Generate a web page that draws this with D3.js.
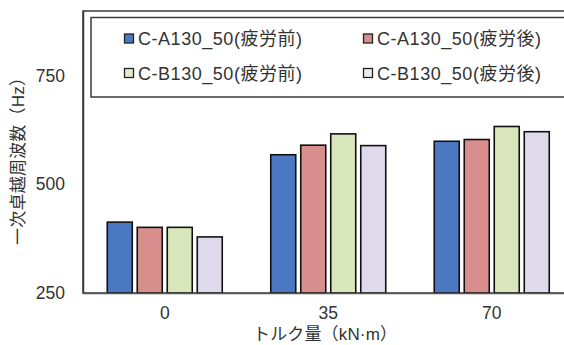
<!DOCTYPE html>
<html>
<head>
<meta charset="utf-8">
<script src="https://cdn.jsdelivr.net/npm/d3@7"></script>
<style>
  html, body { margin: 0; padding: 0; background: #fff; }
  svg { display: block; }
</style>
</head>
<body>
<svg id="chart" width="564" height="345"></svg>
<script>
const categories = ["0", "35", "70"];
const seriesNames = ["C-A130_50(疲労前)", "C-A130_50(疲労後)", "C-B130_50(疲労前)", "C-B130_50(疲労後)"];
const seriesColors = ["#4a78c2", "#d98e8e", "#d9e6bb", "#dedaec"];
const seriesA_before = [413, 568, 599];
const seriesA_after = [401, 590, 603];
const seriesB_before = [401, 616, 633];
const seriesB_after = [379, 589, 621];
const yTicks = [250, 500, 750];
const yTitle = "一次卓越周波数（Hz）";
const xTitle = "トルク量（kN·m）";

const seriesValues = [seriesA_before, seriesA_after, seriesB_before, seriesB_after];

const svg = d3.select("#chart");
const pLeft = 83, pRight = 573.5, pTop = 11, pBottom = 293;

const x = d3.scaleBand().domain(categories).range([pLeft, pRight]).paddingInner(0).paddingOuter(0);
const xs = d3.scaleBand().domain(d3.range(seriesNames.length)).range([0, 115]).paddingInner(5 / 30).paddingOuter(0);
const y = d3.scaleLinear().domain([250, 900]).range([pBottom, pTop - 0.6]);

// plot frame (top/right)
svg.append("rect")
  .attr("x", pLeft).attr("y", pTop)
  .attr("width", 620 - pLeft).attr("height", pBottom - pTop)
  .attr("fill", "none").attr("stroke", "#3a3a3a").attr("stroke-width", 1.5);

// bars
const groups = svg.append("g").selectAll("g")
  .data(categories)
  .join("g")
  .attr("transform", d => `translate(${x(d) + x.bandwidth() / 2 - 57.5},0)`);

groups.selectAll("rect")
  .data((c, ci) => seriesValues.map((vals, si) => ({ si, v: vals[ci] })))
  .join("rect")
  .attr("x", d => xs(d.si))
  .attr("width", xs.bandwidth())
  .attr("y", d => y(d.v))
  .attr("height", d => y(250) - y(d.v))
  .attr("fill", d => seriesColors[d.si])
  .attr("stroke", "#111")
  .attr("stroke-width", 1.6);

// axes
const yAxis = svg.append("g")
  .attr("transform", `translate(${pLeft},0)`)
  .call(d3.axisLeft(y).tickValues(yTicks).tickSize(0).tickPadding(18).tickFormat(d3.format("d")));
yAxis.select(".domain").attr("stroke", "#3a3a3a").attr("stroke-width", 1.5);
yAxis.selectAll("text")
  .attr("font-family", "Liberation Sans, Arial, sans-serif")
  .attr("font-size", 17.5).attr("fill", "#333");

const xAxis = svg.append("g")
  .attr("transform", `translate(0,${pBottom})`)
  .call(d3.axisBottom(x).tickSize(0).tickPadding(14));
xAxis.select(".domain").attr("stroke", "#555").attr("stroke-width", 1.5);
xAxis.selectAll("text")
  .attr("font-family", "Liberation Sans, Arial, sans-serif")
  .attr("font-size", 17.5).attr("fill", "#333");

// axis titles
svg.append("text")
  .attr("transform", "translate(24,157) rotate(-90)")
  .attr("text-anchor", "middle")
  .attr("font-family", "Liberation Sans, 'Noto Sans CJK JP', sans-serif")
  .attr("font-size", 17).attr("fill", "#333")
  .attr("textLength", 176).attr("lengthAdjust", "spacing")
  .text(yTitle);

svg.append("text")
  .attr("x", 325).attr("y", 340)
  .attr("text-anchor", "middle")
  .attr("font-family", "Liberation Sans, 'Noto Sans CJK JP', sans-serif")
  .attr("font-size", 17).attr("fill", "#333")
  .attr("textLength", 144).attr("lengthAdjust", "spacing")
  .text(xTitle);

// legend
const legend = svg.append("g");
legend.append("rect")
  .attr("x", 91).attr("y", 17.5).attr("width", 540).attr("height", 79.5)
  .attr("fill", "#fff").attr("stroke", "#3a3a3a").attr("stroke-width", 1.5);

const legendPos = [[124, 38.5], [363, 38.5], [124, 73], [363, 73]];
const legendMarkerColors = ["#4a78c2", "#d98e8e", "#e2ebcc", "#ebeaf0"];
const items = legend.selectAll("g.item")
  .data(seriesNames)
  .join("g").attr("class", "item")
  .attr("transform", (d, i) => `translate(${legendPos[i][0]},${legendPos[i][1]})`);
items.append("rect")
  .attr("x", 0.5).attr("y", -4.5).attr("width", 9).attr("height", 9)
  .attr("fill", (d, i) => legendMarkerColors[i])
  .attr("stroke", "#222").attr("stroke-width", 1.3);
items.append("text")
  .attr("x", 14).attr("y", 6.5)
  .attr("font-family", "Liberation Sans, 'Noto Sans CJK JP', sans-serif")
  .attr("font-size", 18).attr("fill", "#333")
  .attr("textLength", 164).attr("lengthAdjust", "spacing")
  .text(d => d);
</script>
</body>
</html>
